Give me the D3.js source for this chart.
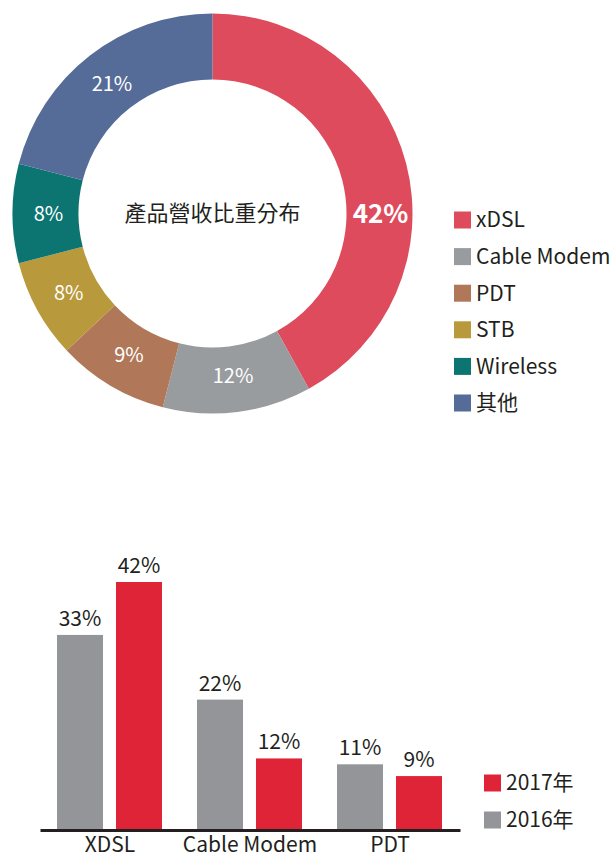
<!DOCTYPE html>
<html>
<head>
<meta charset="utf-8">
<script src="https://cdn.jsdelivr.net/npm/d3@7"></script>
<style>
  body { margin: 0; background: #fff; }
  text { font-family: "Noto Sans CJK TC", "Noto Sans", sans-serif; fill: #231f20; }
</style>
</head>
<body>
<div id="chart"></div>
<script>
// donut data
const shareNames = ["xDSL", "Cable Modem", "PDT", "STB", "Wireless", "其他"]
const shareValues = [42, 12, 9, 8, 8, 21]
const shareColors = ["#de4b5c", "#999c9f", "#b07858", "#b8993c", "#0c7571", "#556c98"]
const donutTitle = "產品營收比重分布"

// bar data
const barCats = ["XDSL", "Cable Modem", "PDT"]
const barYears = ["2016年", "2017年"]
const values2016 = [33, 22, 11]
const values2017 = [42, 12, 9]
const yearColors = ["#939598", "#e02437"]

const svg = d3.select("#chart").append("svg").attr("width", 614).attr("height", 859)

// ---- donut ----
const cx = 212.5, cy = 213.5
const donut = svg.append("g").attr("transform", `translate(${cx},${cy})`)
const pie = d3.pie().sort(null).value(d => d)
const arcs = pie(shareValues)
const arc = d3.arc().innerRadius(134).outerRadius(200)
const labelArc = d3.arc().innerRadius(164).outerRadius(164)

donut.selectAll("path.slice")
  .data(arcs)
  .enter().append("path")
    .attr("class", "slice")
    .attr("d", arc)
    .attr("fill", (d, i) => shareColors[i])

donut.selectAll("text.pct")
  .data(arcs)
  .enter().append("text")
    .attr("class", "pct")
    .attr("transform", (d, i) => {
      // the big slice has its label pushed to the right side
      if (i === 0) return `translate(${168 * Math.sin(Math.PI / 2)},${-168 * Math.cos(Math.PI / 2)})`
      const c = labelArc.centroid(d)
      return `translate(${c[0]},${c[1]})`
    })
    .attr("text-anchor", "middle")
    .attr("dy", "0.35em")
    .style("fill", "#fff")
    .style("font-size", (d, i) => i === 0 ? "26px" : "20px")
    .style("font-weight", (d, i) => i === 0 ? "bold" : "normal")
    .text(d => d.data + "%")

donut.append("text")
  .attr("text-anchor", "middle")
  .attr("dy", "0.35em")
  .style("font-size", "22px")
  .text(donutTitle)

// legend for donut
const legend = svg.append("g").attr("transform", "translate(454,220)")
shareNames.forEach((name, i) => {
  const row = legend.append("g").attr("transform", `translate(0,${i * 36.6})`)
  row.append("rect").attr("x", 0).attr("y", -8.5).attr("width", 17).attr("height", 17).attr("fill", shareColors[i])
  row.append("text").attr("x", 22).attr("dy", "0.35em").style("font-size", "21px").text(name)
})

// ---- grouped bars ----
const baseY = 829
const x0 = d3.scaleBand().domain(barCats).range([40, 460])
const x1 = d3.scaleBand().domain(barYears).range([17, 122]).paddingInner(0.22)
const y = d3.scaleLinear().domain([0, 42]).range([baseY, 582])

const barRows = barCats.map((c, i) => ({ cat: c, vals: [values2016[i], values2017[i]] }))

const groups = svg.selectAll("g.grp")
  .data(barRows)
  .enter().append("g")
    .attr("class", "grp")
    .attr("transform", d => `translate(${x0(d.cat)},0)`)

groups.selectAll("rect")
  .data(d => d.vals.map((v, j) => ({ year: barYears[j], v: v, j: j })))
  .enter().append("rect")
    .attr("x", d => x1(d.year))
    .attr("y", d => y(d.v))
    .attr("width", x1.bandwidth())
    .attr("height", d => baseY - y(d.v))
    .attr("fill", d => yearColors[d.j])

groups.selectAll("text.val")
  .data(d => d.vals.map((v, j) => ({ year: barYears[j], v: v, j: j })))
  .enter().append("text")
    .attr("class", "val")
    .attr("x", d => x1(d.year) + x1.bandwidth() / 2)
    .attr("y", d => y(d.v) - 9)
    .attr("text-anchor", "middle")
    .style("font-size", "21px")
    .text(d => d.v + "%")

const xAxis = svg.append("g")
  .attr("transform", `translate(0,${baseY + 1})`)
  .call(d3.axisBottom(x0).tickSize(0).tickSizeOuter(0).tickPadding(7))
xAxis.select(".domain").attr("stroke", "#231f20").attr("stroke-width", 3)
xAxis.selectAll(".tick text")
  .style("font-size", "21px")
  .style("font-family", "'Noto Sans CJK TC', 'Noto Sans', sans-serif")
  .attr("fill", "#231f20")

// legend for bars (2017 first)
const legend2 = svg.append("g").attr("transform", "translate(484,783)")
barYears.slice().reverse().forEach((yr, i) => {
  const j = barYears.indexOf(yr)
  const row = legend2.append("g").attr("transform", `translate(0,${i * 37})`)
  row.append("rect").attr("x", 0).attr("y", -8.5).attr("width", 17).attr("height", 17).attr("fill", yearColors[j])
  row.append("text").attr("x", 22).attr("dy", "0.35em").style("font-size", "21px").text(yr)
})
</script>
</body>
</html>
